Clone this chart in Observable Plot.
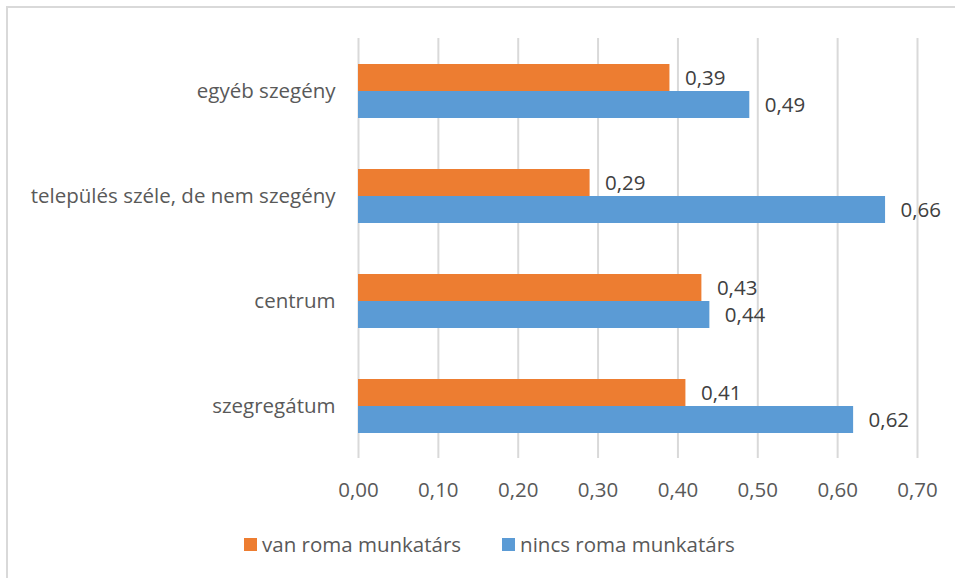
<!DOCTYPE html>
<html>
<head>
<meta charset="utf-8">
<script src="https://cdn.jsdelivr.net/npm/d3@7"></script>
<script src="https://cdn.jsdelivr.net/npm/@observablehq/plot@0.6"></script>
<style>
  html, body { margin: 0; padding: 0; background: #fff; }
  #wrap { position: relative; width: 955px; height: 578px; overflow: hidden; font-family: "Open Sans", sans-serif; }
  #frame { position: absolute; left: 6px; top: 6px; width: 1000px; height: 1000px; border-top: 2px solid #d9d9d9; border-left: 2px solid #d9d9d9; box-sizing: border-box; }
  #chart { position: absolute; left: 0; top: 0; }
  #legend { position: absolute; left: 244px; top: 530px; display: flex; align-items: center; font-size: 20.5px; color: #595959; }
  .item { display: flex; align-items: center; }
  .sw { width: 13px; height: 13px; margin-right: 5px; }
</style>
</head>
<body>
<div id="wrap">
  <div id="frame"></div>
  <div id="chart"></div>
  <div id="legend"></div>
</div>
<script>
const categories = ["egyéb szegény", "település széle, de nem szegény", "centrum", "szegregátum"];
const seriesNames = ["van roma munkatárs", "nincs roma munkatárs"];
const vanRoma = [0.39, 0.29, 0.43, 0.41];
const nincsRoma = [0.49, 0.66, 0.44, 0.62];
const xTicks = [0, 0.1, 0.2, 0.3, 0.4, 0.5, 0.6, 0.7];
const colors = ["#ED7D31", "#5B9BD5"];

const data = [];
categories.forEach((c, i) => {
  data.push({cat: c, series: seriesNames[0], value: vanRoma[i]});
  data.push({cat: c, series: seriesNames[1], value: nincsRoma[i]});
});
const fmt = v => d3.format(".2f")(v).replace(".", ",");

const chart = Plot.plot({
  width: 955,
  height: 520,
  marginTop: 36,
  marginBottom: 61,
  marginLeft: 358,
  marginRight: 38,
  style: { fontFamily: "'Open Sans', sans-serif", fontSize: "20.5px", color: "#595959", background: "transparent" },
  x: { domain: [0, 0.7], ticks: xTicks, tickFormat: fmt, label: null },
  fy: { domain: categories, padding: 0, label: null },
  y: { domain: seriesNames, paddingInner: 0, paddingOuter: 0.923, axis: null },
  color: { domain: seriesNames, range: colors },
  marks: [
    Plot.ruleX(xTicks, { stroke: "#d9d9d9", strokeWidth: 2, strokeOpacity: 1 }),
    Plot.barX(data, { x: "value", y: "series", fy: "cat", fill: "series" }),
    Plot.text(data, { x: "value", y: "series", fy: "cat", text: d => fmt(d.value), textAnchor: "start", dx: 15, fill: "#404040", fontSize: 20.5 }),
    Plot.axisX({ ticks: xTicks, tickFormat: fmt, tickSize: 0, tickPadding: 24, fontSize: 20.5, fill: "#595959", label: null }),
    Plot.axisFy({ anchor: "left", tickSize: 0, tickPadding: 23, fontSize: 20.5, fill: "#595959", label: null })
  ]
});
document.getElementById("chart").appendChild(chart);

const legend = document.getElementById("legend");
seriesNames.forEach((s, i) => {
  const item = document.createElement("div");
  item.className = "item";
  item.style.marginRight = i === 0 ? "41px" : "0";
  const sw = document.createElement("div");
  sw.className = "sw";
  sw.style.background = colors[i];
  const t = document.createElement("span");
  t.textContent = s;
  item.appendChild(sw);
  item.appendChild(t);
  legend.appendChild(item);
});
</script>
</body>
</html>
